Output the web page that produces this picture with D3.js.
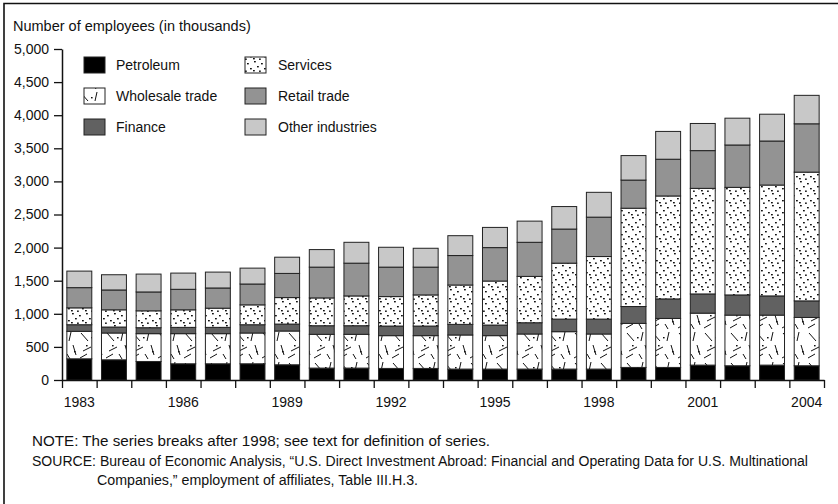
<!DOCTYPE html>
<html>
<head>
<meta charset="utf-8">
<script src="https://cdn.jsdelivr.net/npm/d3@7"></script>
<style>
  body { margin: 0; background: #fff; }
  svg text { font-family: "Liberation Sans Narrow", "Arial Narrow", sans-serif; fill: #111; }
</style>
</head>
<body>
<div id="chart"></div>
<script>
// employment of majority-owned foreign affiliates, thousands
const years = d3.range(1983, 2005);
const petroleum = [320, 305, 280, 245, 245, 245, 230, 180, 180, 175, 175, 165, 165, 165, 165, 165, 190, 190, 225, 215, 225, 215];
const wholesale = [415, 405, 420, 455, 455, 465, 510, 510, 510, 495, 495, 515, 505, 530, 565, 530, 665, 740, 785, 765, 755, 730];
const finance   = [100,  90,  90,  95,  95, 125, 105, 130, 130, 145, 145, 160, 160, 170, 190, 225, 255, 295, 290, 305, 290, 250];
const services  = [255, 260, 255, 265, 290, 300, 400, 420, 450, 445, 470, 595, 665, 700, 845, 945, 1485, 1555, 1595, 1625, 1675, 1945];
const retail    = [305, 300, 285, 310, 305, 315, 365, 465, 495, 445, 420, 445, 505, 515, 515, 595, 425, 555, 570, 640, 665, 730];
const other     = [250, 230, 270, 245, 240, 240, 245, 265, 315, 300, 285, 300, 305, 320, 340, 375, 370, 420, 410, 405, 405, 430];

const seriesKeys = ["petroleum", "wholesale", "finance", "services", "retail", "other"];
const seriesNames = ["Petroleum", "Wholesale trade", "Finance", "Services", "Retail trade", "Other industries"];
const yTicks = d3.range(0, 5001, 500);
const xLabelYears = [1983, 1986, 1989, 1992, 1995, 1998, 2001, 2004];

const width = 838, height = 504;
const plotL = 62, plotR = 824, plotT = 49, plotB = 380;

const table = years.map((yr, i) => ({
  year: yr,
  petroleum: petroleum[i], wholesale: wholesale[i], finance: finance[i],
  services: services[i], retail: retail[i], other: other[i]
}));

const svg = d3.select("#chart").append("svg")
  .attr("width", width)
  .attr("height", height);

// fill patterns
const defs = svg.append("defs");

const dots = defs.append("pattern")
  .attr("id", "dots")
  .attr("patternUnits", "userSpaceOnUse")
  .attr("width", 14).attr("height", 12);
dots.append("rect").attr("width", 14).attr("height", 12).attr("fill", "#fff");
[[2, 1], [9, 3], [5, 6], [12, 8], [1, 10], [7, 10.5]].forEach(p => {
  dots.append("rect").attr("x", p[0]).attr("y", p[1])
    .attr("width", 1.8).attr("height", 1.4).attr("fill", "#111");
});

const slash = defs.append("pattern")
  .attr("id", "slash")
  .attr("patternUnits", "userSpaceOnUse")
  .attr("width", 26).attr("height", 30);
slash.append("rect").attr("width", 26).attr("height", 30).attr("fill", "#fff");
["M3,3L10,11", "M19,2L17,11", "M5,21L13,17", "M21,15L24,25", "M2,28L9,24", "M15,24L18,29"].forEach(d => {
  slash.append("path").attr("d", d).attr("stroke", "#111").attr("stroke-width", 1);
});
[[13, 7], [8, 15], [22, 21]].forEach(p => {
  slash.append("rect").attr("x", p[0]).attr("y", p[1])
    .attr("width", 1.6).attr("height", 1.4).attr("fill", "#111");
});

const fills = {
  petroleum: "#000",
  wholesale: "url(#slash)",
  finance: "#616161",
  services: "url(#dots)",
  retail: "#939393",
  other: "#c8c8c8"
};

// frame
svg.append("path")
  .attr("d", `M4,${height}V3.5H${width}`)
  .attr("fill", "none")
  .attr("stroke", "#111")
  .attr("stroke-width", 1.6);

const x = d3.scaleBand()
  .domain(years)
  .range([plotL, plotR])
  .paddingInner(0.28)
  .paddingOuter(0.14);

const y = d3.scaleLinear()
  .domain([0, 5000])
  .range([plotB, plotT]);

const stack = d3.stack().keys(seriesKeys);
const layers = stack(table);

svg.append("g")
  .selectAll("g")
  .data(layers)
  .join("g")
  .attr("fill", d => fills[d.key])
  .selectAll("rect")
  .data(d => d)
  .join("rect")
  .attr("x", d => x(d.data.year))
  .attr("y", d => y(d[1]))
  .attr("width", x.bandwidth())
  .attr("height", d => y(d[0]) - y(d[1]))
  .attr("stroke", "#222")
  .attr("stroke-width", 1);

// y axis
const yAxis = svg.append("g")
  .attr("transform", `translate(${plotL},0)`)
  .call(d3.axisLeft(y)
    .tickValues(yTicks)
    .tickFormat(d3.format(","))
    .tickSize(8)
    .tickSizeOuter(0)
    .tickPadding(5));
yAxis.select(".domain").attr("stroke", "#111").attr("stroke-width", 1.5);
yAxis.selectAll(".tick line").attr("stroke", "#111").attr("stroke-width", 1.3);
yAxis.selectAll("text").style("font-size", "14px");

// x axis: ticks at band edges, labels every third year at band centre
const xEdge = d3.scaleLinear()
  .domain([1983, 2005])
  .range([plotL, plotR]);
const xAxis = svg.append("g")
  .attr("transform", `translate(0,${plotB})`)
  .call(d3.axisBottom(xEdge)
    .tickValues(d3.range(1983, 2006))
    .tickFormat("")
    .tickSize(8)
    .tickSizeOuter(0));
xAxis.select(".domain").attr("stroke", "#111").attr("stroke-width", 1.5);
xAxis.selectAll(".tick line").attr("stroke", "#111").attr("stroke-width", 1.3);

svg.append("g")
  .selectAll("text")
  .data(xLabelYears)
  .join("text")
  .attr("x", d => x(d) + x.bandwidth() / 2)
  .attr("y", 407)
  .attr("text-anchor", "middle")
  .style("font-size", "14px")
  .text(d => d);

// axis title
svg.append("text")
  .attr("x", 13)
  .attr("y", 31)
  .style("font-size", "14.5px")
  .text("Number of employees (in thousands)");

// legend
const legend = svg.append("g");
seriesKeys.forEach((k, i) => {
  const col = Math.floor(i / 3), row = i % 3;
  const lx = col === 0 ? 84 : 245;
  const ly = 57 + row * 31;
  legend.append("rect")
    .attr("x", lx).attr("y", ly)
    .attr("width", 21).attr("height", 16)
    .attr("fill", fills[k])
    .attr("stroke", "#222")
    .attr("stroke-width", 1);
  legend.append("text")
    .attr("x", lx + (col === 0 ? 32 : 33))
    .attr("y", ly + 13)
    .style("font-size", "14px")
    .text(seriesNames[i]);
});

// notes
const notes = svg.append("g").style("font-size", "14px");
notes.append("text").attr("x", 32).attr("y", 446)
  .attr("textLength", 458).attr("lengthAdjust", "spacingAndGlyphs")
  .text("NOTE: The series breaks after 1998; see text for definition of series.");
notes.append("text").attr("x", 32).attr("y", 466)
  .attr("textLength", 776).attr("lengthAdjust", "spacingAndGlyphs")
  .text("SOURCE: Bureau of Economic Analysis, \u201cU.S. Direct Investment Abroad: Financial and Operating Data for U.S. Multinational");
notes.append("text").attr("x", 97).attr("y", 485)
  .attr("textLength", 321).attr("lengthAdjust", "spacingAndGlyphs")
  .text("Companies,\u201d employment of affiliates, Table III.H.3.");
</script>
</body>
</html>
